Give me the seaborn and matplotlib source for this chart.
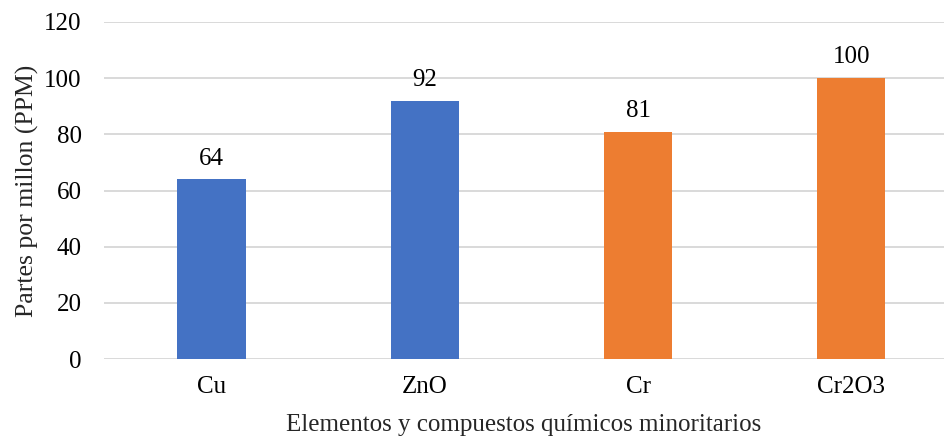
import matplotlib
matplotlib.use("Agg")
import matplotlib.pyplot as plt
import seaborn as sns
import pandas as pd

categories = ["Cu", "ZnO", "Cr", "Cr2O3"]
values = [64, 92, 81, 100]
groups = ["a", "a", "b", "b"]
yticks = [0, 20, 40, 60, 80, 100, 120]

palette = {"a": "#4472C4", "b": "#ED7D31"}

sns.set_theme(style="white")
plt.rcParams["font.family"] = ["Liberation Serif", "DejaVu Serif"]

df = pd.DataFrame({"cat": categories, "val": values, "grp": groups})

fig = plt.figure(figsize=(9.44, 4.38), dpi=100)
ax = fig.add_axes([0.110, 0.180, 0.890, 0.770])

sns.barplot(data=df, x="cat", y="val", hue="grp", palette=palette,
            dodge=False, width=0.32, legend=False, ax=ax, saturation=1,
            linewidth=0)

for i, v in enumerate(values):
    ax.annotate(f"{v}", (i, v), xytext=(0, 7), textcoords="offset points",
                ha="center", va="bottom", fontsize=18, color="#000000")

ax.set_ylim(0, 120)
ax.set_yticks(yticks)
ax.set_xlim(-0.505, 3.435)
ax.yaxis.grid(True, color="#D9D9D9", linewidth=1.4)
ax.set_axisbelow(True)
for s in ax.spines.values():
    s.set_visible(False)
ax.tick_params(axis="both", length=0, labelsize=18, colors="#000000")
ax.tick_params(axis="x", pad=12)
ax.tick_params(axis="y", pad=16)
ax.set_xlabel("Elementos y compuestos químicos minoritarios", fontsize=18, labelpad=12)
ax.set_ylabel("Partes por millon (PPM)", fontsize=18.5, labelpad=4)

fig.savefig("out.png", dpi=100)
